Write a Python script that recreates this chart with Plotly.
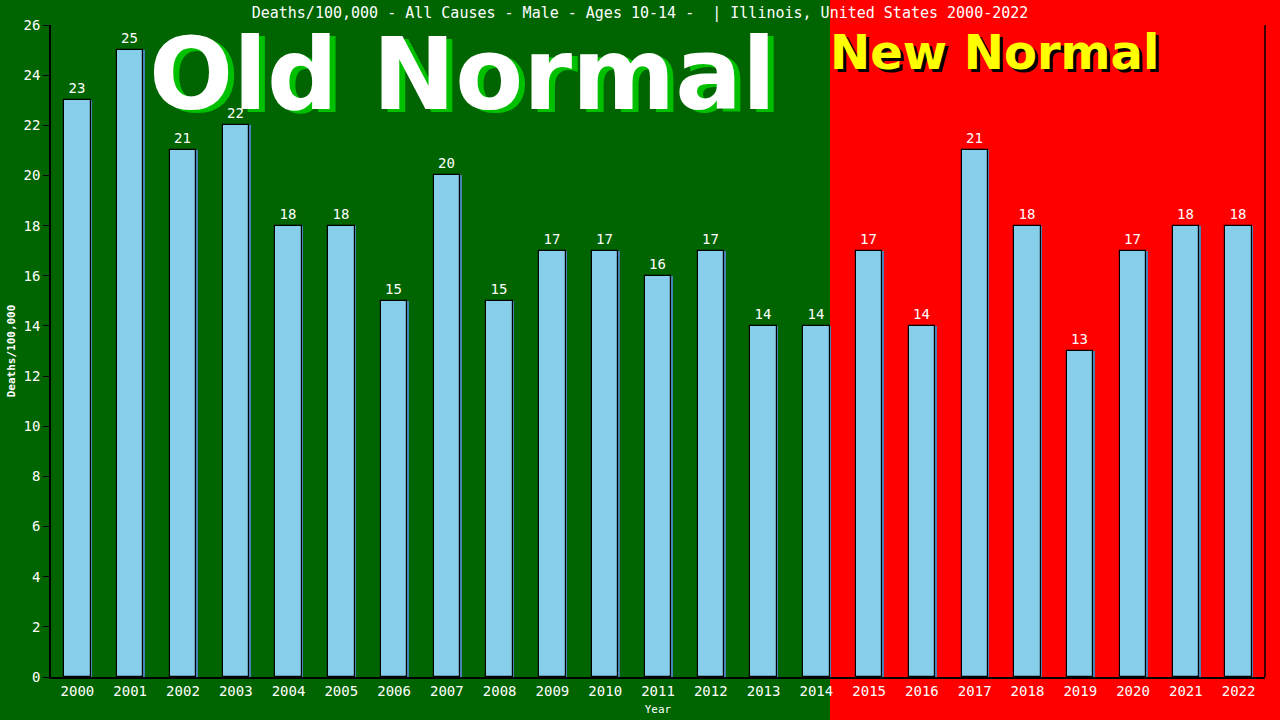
import plotly.graph_objects as go

years = [str(y) for y in range(2000, 2023)]
deaths = [23, 25, 21, 22, 18, 18, 15, 20, 15, 17, 17, 16, 17, 14, 14, 17, 14, 21, 18, 13, 17, 18, 18]
y_ticks = list(range(0, 27, 2))

title_text = "Deaths/100,000 - All Causes - Male - Ages 10-14 - &nbsp;| Illinois, United States 2000-2022"
mono = "DejaVu Sans Mono"

W, H = 1280, 720
L, R, T, B = 51, 15, 25, 43
pw = W - L - R
split = (830 - L) / pw

fig = go.Figure()
fig.add_trace(go.Bar(
    x=years, y=deaths, width=0.5, offset=-0.22,
    marker=dict(color="#4682B4", line=dict(width=0)),
    hoverinfo="skip", showlegend=False,
))
fig.add_trace(go.Bar(
    x=years, y=deaths, width=0.5, offset=-0.25,
    marker=dict(color="#87CEEB", line=dict(color="black", width=1.2)),
    text=[str(v) for v in deaths], textposition="outside", cliponaxis=False,
    textfont=dict(color="white", family=mono, size=14),
    showlegend=False,
))

shapes = [
    dict(type="rect", xref="paper", yref="paper", x0=-0.2, x1=split, y0=-0.2, y1=1.2,
         fillcolor="#006400", line=dict(width=0), layer="below"),
]

annotations = [
    dict(text="Old Normal", xref="paper", yref="paper", x=(462 - L) / pw, y=(H - B - 74) / (H - T - B),
         showarrow=False, font=dict(family="DejaVu Sans", size=99, color="#00C000", weight="bold"),
         xshift=6, yshift=-3, xanchor="center", yanchor="middle"),
    dict(text="Old Normal", xref="paper", yref="paper", x=(462 - L) / pw, y=(H - B - 74) / (H - T - B),
         showarrow=False, font=dict(family="DejaVu Sans", size=99, color="white", weight="bold"),
         xanchor="center", yanchor="middle"),
    dict(text="New Normal", xref="paper", yref="paper", x=(994 - L) / pw, y=(H - B - 52) / (H - T - B),
         showarrow=False, font=dict(family="DejaVu Sans", size=48, color="black", weight="bold"),
         xshift=3, yshift=-3, xanchor="center", yanchor="middle"),
    dict(text="New Normal", xref="paper", yref="paper", x=(994 - L) / pw, y=(H - B - 52) / (H - T - B),
         showarrow=False, font=dict(family="DejaVu Sans", size=48, color="#FFFF00", weight="bold"),
         xanchor="center", yanchor="middle"),
]

fig.update_layout(
    width=W, height=H,
    margin=dict(l=L, r=R, t=T, b=B, pad=0, autoexpand=False),
    paper_bgcolor="#FF0000", plot_bgcolor="rgba(0,0,0,0)",
    barmode="overlay", bargap=0,
    title=dict(text=title_text, x=0.5, xanchor="center", y=1 - 13 / H, yanchor="middle",
               font=dict(family=mono, size=15, color="white")),
    shapes=shapes, annotations=annotations,
    xaxis=dict(
        type="category", range=[-0.5, 22.5], showline=True, linecolor="black", linewidth=1.5,
        mirror=False, ticks="", tickfont=dict(family=mono, size=14, color="white"),
        title=dict(text="Year", font=dict(family=mono, size=11, color="white"), standoff=8),
        showgrid=False, zeroline=False, automargin=False,
    ),
    yaxis=dict(
        range=[0, 26], tickvals=y_ticks, showline=True, linecolor="black", linewidth=1.5,
        ticks="outside", tickcolor="black", ticklen=6, tickwidth=1,
        tickfont=dict(family=mono, size=14, color="white"),
        title=dict(text="<b>Deaths/100,000</b>", font=dict(family=mono, size=11, color="white"), standoff=6),
        showgrid=False, zeroline=False, automargin=False,
    ),
)
fig.add_shape(type="line", xref="paper", yref="paper", x0=1, x1=1, y0=0, y1=1,
              line=dict(color="black", width=1.5))

fig.write_html("out.html", config={"displayModeBar": False},
               post_script="document.body.style.margin='0';document.body.style.padding='0';")
